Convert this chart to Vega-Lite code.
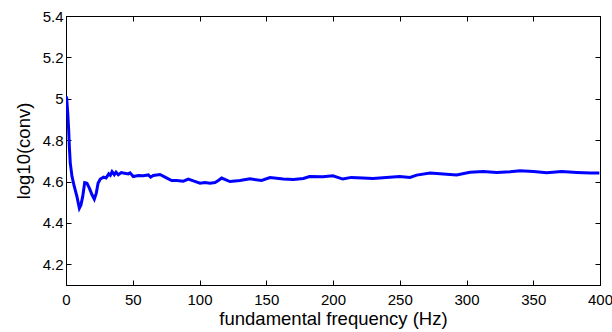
{
  "$schema": "https://vega.github.io/schema/vega-lite/v6.json",
  "width": 534,
  "height": 269,
  "autosize": "none",
  "padding": {"left": 66, "top": 16, "right": 12, "bottom": 47},
  "background": "white",
  "config": {
    "view": {"stroke": "black", "strokeWidth": 1},
    "axis": {
      "labelFont": "Liberation Sans",
      "titleFont": "Liberation Sans",
      "labelFontSize": 15,
      "titleFontSize": 18.5,
      "labelColor": "black",
      "titleColor": "black",
      "titleFontWeight": "normal",
      "domainColor": "black",
      "tickColor": "black",
      "grid": false
    }
  },
  "data": {"values": [
    {"f": 0, "v": 5.01}, {"f": 0.5, "v": 5.004}, {"f": 1.3, "v": 4.931}, {"f": 2, "v": 4.85},
    {"f": 2.5, "v": 4.769}, {"f": 3.2, "v": 4.689}, {"f": 4.5, "v": 4.624}, {"f": 6.2, "v": 4.576},
    {"f": 8.2, "v": 4.527}, {"f": 10, "v": 4.471}, {"f": 11.2, "v": 4.487}, {"f": 12.5, "v": 4.527},
    {"f": 14, "v": 4.595}, {"f": 15.7, "v": 4.592}, {"f": 17.5, "v": 4.568}, {"f": 19.5, "v": 4.536},
    {"f": 21.2, "v": 4.515}, {"f": 22.7, "v": 4.544}, {"f": 24, "v": 4.592}, {"f": 25.7, "v": 4.612},
    {"f": 28.2, "v": 4.621}, {"f": 30, "v": 4.617}, {"f": 32, "v": 4.637}, {"f": 33.2, "v": 4.63},
    {"f": 34.5, "v": 4.648}, {"f": 36.2, "v": 4.633}, {"f": 37.5, "v": 4.645}, {"f": 39.2, "v": 4.633},
    {"f": 41.4, "v": 4.643}, {"f": 42.9, "v": 4.641}, {"f": 46.7, "v": 4.637}, {"f": 48, "v": 4.642},
    {"f": 50.4, "v": 4.624}, {"f": 54.2, "v": 4.629}, {"f": 57.9, "v": 4.628}, {"f": 61.7, "v": 4.632},
    {"f": 63.4, "v": 4.621}, {"f": 65.4, "v": 4.629}, {"f": 70.4, "v": 4.634}, {"f": 74.2, "v": 4.621},
    {"f": 79.1, "v": 4.605}, {"f": 82.9, "v": 4.605}, {"f": 87.9, "v": 4.602}, {"f": 91.6, "v": 4.612},
    {"f": 95.4, "v": 4.603}, {"f": 100.4, "v": 4.592}, {"f": 104.1, "v": 4.595}, {"f": 107.9, "v": 4.592},
    {"f": 111.6, "v": 4.595}, {"f": 114.1, "v": 4.605}, {"f": 116.6, "v": 4.617}, {"f": 122.8, "v": 4.6},
    {"f": 130.3, "v": 4.605}, {"f": 137.8, "v": 4.613}, {"f": 146.5, "v": 4.605}, {"f": 152.8, "v": 4.619},
    {"f": 162.8, "v": 4.612}, {"f": 170.3, "v": 4.61}, {"f": 177.8, "v": 4.615}, {"f": 182.4, "v": 4.624},
    {"f": 192.4, "v": 4.623}, {"f": 199.9, "v": 4.628}, {"f": 207.4, "v": 4.612}, {"f": 213.7, "v": 4.62},
    {"f": 222.4, "v": 4.617}, {"f": 229.9, "v": 4.615}, {"f": 239.9, "v": 4.619}, {"f": 249.9, "v": 4.624},
    {"f": 257.7, "v": 4.62}, {"f": 262.7, "v": 4.631}, {"f": 272.7, "v": 4.641}, {"f": 282.6, "v": 4.637},
    {"f": 292.6, "v": 4.632}, {"f": 302.6, "v": 4.645}, {"f": 312.6, "v": 4.648}, {"f": 322.6, "v": 4.644},
    {"f": 332.6, "v": 4.647}, {"f": 340.1, "v": 4.652}, {"f": 350.1, "v": 4.648}, {"f": 360.1, "v": 4.642},
    {"f": 371.3, "v": 4.648}, {"f": 382.6, "v": 4.644}, {"f": 393.1, "v": 4.641}, {"f": 399.5, "v": 4.641}
  ]},
  "layer": [
    {
      "mark": {"type": "line", "color": "#0000FF", "strokeWidth": 3, "clip": true},
      "encoding": {
        "x": {
          "field": "f", "type": "quantitative",
          "scale": {"domain": [0, 400], "nice": false, "zero": false},
          "axis": {
            "title": "fundamental frequency (Hz)",
            "values": [0, 50, 100, 150, 200, 250, 300, 350, 400],
            "tickSize": -5, "labelPadding": 12, "titlePadding": 2,
            "labelFlush": false, "labelOverlap": false
          }
        },
        "y": {
          "field": "v", "type": "quantitative",
          "scale": {"domain": [4.1, 5.4], "nice": false, "zero": false},
          "axis": {
            "title": "log10(conv)",
            "values": [4.2, 4.4, 4.6, 4.8, 5, 5.2, 5.4],
            "format": "~g",
            "tickSize": -5, "labelPadding": 8, "titlePadding": 9,
            "labelFlush": false, "labelOverlap": false
          }
        }
      }
    },
    {
      "mark": {"type": "line", "opacity": 0},
      "encoding": {
        "x": {
          "field": "f", "type": "quantitative",
          "axis": {"orient": "top", "title": null, "labels": false,
            "values": [0, 50, 100, 150, 200, 250, 300, 350, 400], "tickSize": -5}
        },
        "y": {
          "field": "v", "type": "quantitative",
          "axis": {"orient": "right", "title": null, "labels": false,
            "values": [4.2, 4.4, 4.6, 4.8, 5, 5.2, 5.4], "tickSize": -5}
        }
      }
    }
  ],
  "resolve": {"axis": {"x": "independent", "y": "independent"}}
}
